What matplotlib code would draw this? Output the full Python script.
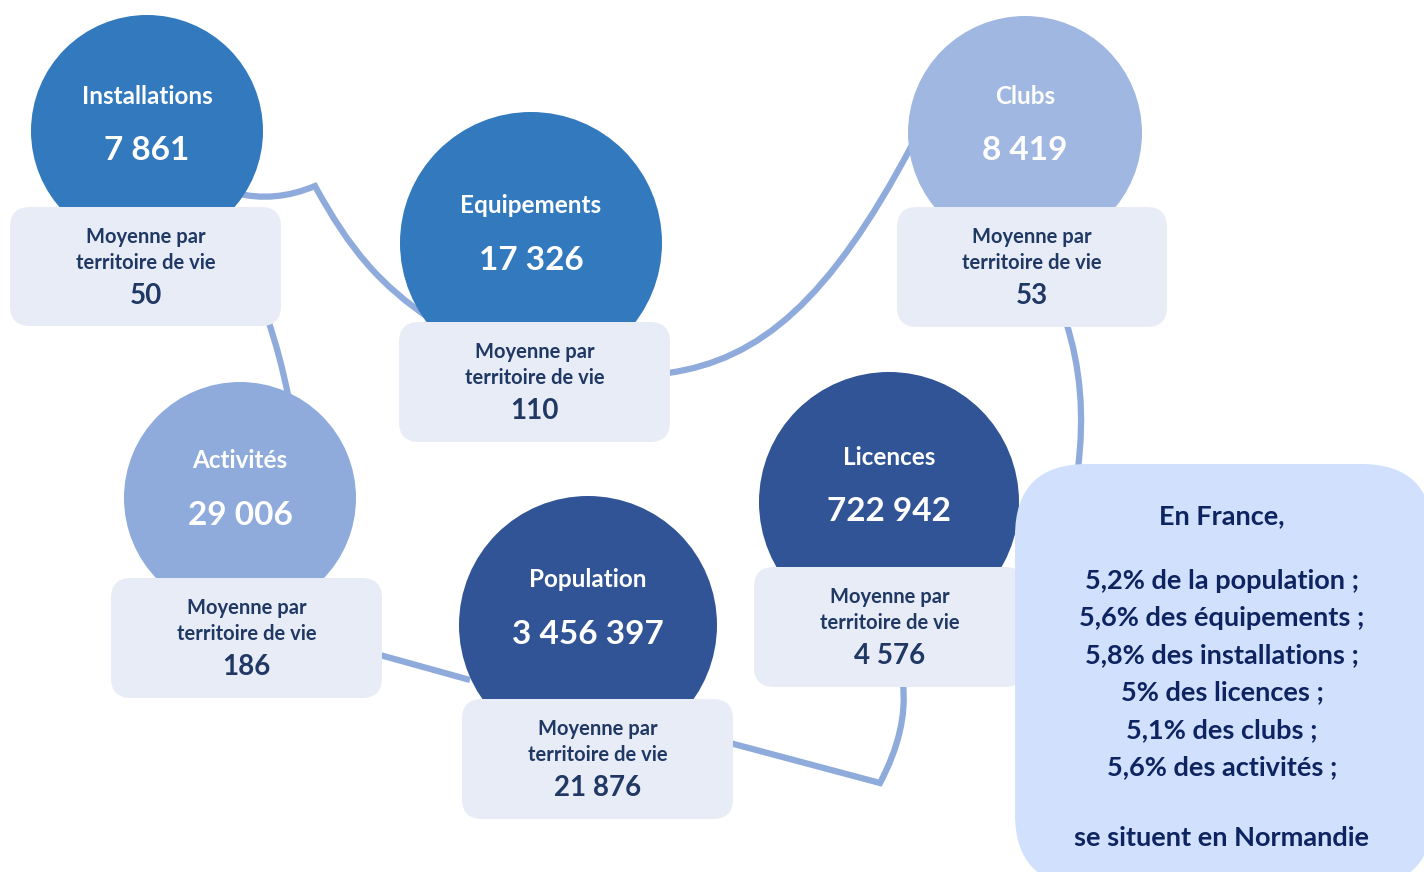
import matplotlib.pyplot as plt
from matplotlib.patches import Circle, FancyBboxPatch, PathPatch
from matplotlib.path import Path

plt.rcParams['font.family'] = ['Lato', 'DejaVu Sans']

# data
names = ['Installations', 'Equipements', 'Clubs', 'Activités', 'Population', 'Licences']
totals = ['7 861', '17 326', '8 419', '29 006', '3 456 397', '722 942']
averages = ['50', '110', '53', '186', '21 876', '4 576']
avg_lines = ['Moyenne par', 'territoire de vie']
france_intro = 'En France,'
france_shares = ['5,2% de la population ;', '5,6% des équipements ;',
                 '5,8% des installations ;', '5% des licences ;',
                 '5,1% des clubs ;', '5,6% des activités ;']
france_outro = 'se situent en Normandie'

# layout (pixels, y down)
circles = [(147, 131, 116), (531, 243, 131), (1025, 133, 117),
           (240, 498, 116), (588, 625, 129), (889, 502, 130)]
text_y = [(96, 151), (205, 260), (96, 151), (460, 515), (579, 634), (457, 511)]
boxes = [(10, 207, 271, 119), (399, 322, 271, 120), (897, 207, 270, 120),
         (111, 578, 271, 120), (462, 699, 271, 120), (754, 567, 271, 120)]
colors = ['#3279be', '#3279be', '#a0b7e1', '#8eabdc', '#305495', '#305495']

BOX_C = '#e8ecf7'
LINE_C = '#8eabdc'
NAVY = '#1f3864'

fig = plt.figure(figsize=(14.24, 8.72), dpi=100)
ax = fig.add_axes([0, 0, 1, 1])
ax.set_xlim(0, 1424)
ax.set_ylim(872, 0)
ax.axis('off')

def curve(pts, codes):
    ax.add_patch(PathPatch(Path(pts, codes), fill=False, ec=LINE_C, lw=4.5,
                           capstyle='butt', joinstyle='miter', zorder=1))

M, L, C3, C4 = Path.MOVETO, Path.LINETO, Path.CURVE3, Path.CURVE4
curve([(235, 193), (275, 203), (315, 186), (350, 250), (380, 285), (432, 320)],
      [M, C3, C3, C4, C4, C4])
curve([(268, 320), (280, 355), (288, 395)], [M, C3, C3])
curve([(668, 373), (760, 360), (830, 300), (912, 145)], [M, C4, C4, C4])
curve([(1066, 322), (1088, 390), (1078, 468)], [M, C3, C3])
curve([(380, 655), (470, 680)], [M, L])
curve([(730, 743), (880, 783), (908, 730), (903, 684)], [M, L, C3, C3])

for (cx, cy, r), col in zip(circles, colors):
    ax.add_patch(Circle((cx, cy), r, fc=col, ec='none', zorder=2))

for (x, y, w, h) in boxes:
    ax.add_patch(FancyBboxPatch((x, y), w, h, boxstyle='round,pad=0,rounding_size=20',
                                fc=BOX_C, ec='none', zorder=3))

for name, tot, avg, (cx, cy, r), (ly, vy), (x, y, w, h) in zip(
        names, totals, averages, circles, text_y, boxes):
    ax.text(cx, ly, name, color='white', fontsize=17.5, fontweight='bold',
            ha='center', va='center', zorder=4)
    ax.text(cx, vy, tot, color='white', fontsize=24, fontweight='bold',
            ha='center', va='center', zorder=4)
    bx = x + w / 2
    ax.text(bx, y + 30, avg_lines[0], color=NAVY, fontsize=14.5, fontweight='bold',
            ha='center', va='center', zorder=4)
    ax.text(bx, y + 56, avg_lines[1], color=NAVY, fontsize=14.5, fontweight='bold',
            ha='center', va='center', zorder=4)
    ax.text(bx, y + 89, avg, color=NAVY, fontsize=20, fontweight='bold',
            ha='center', va='center', zorder=4)

# France box
ax.add_patch(FancyBboxPatch((1015, 464), 418, 422, boxstyle='round,pad=0,rounding_size=72',
                            fc='#d1e0fc', ec='none', zorder=3))
fx = 1222
ax.text(fx, 516, france_intro, color='#0d2461', fontsize=19.5, fontweight='bold',
        ha='center', va='center', zorder=4)
for i, s in enumerate(france_shares):
    ax.text(fx, 581 + i * 37.2, s, color='#0d2461', fontsize=19.5, fontweight='bold',
            ha='center', va='center', zorder=4)
ax.text(fx, 838, france_outro, color='#0d2461', fontsize=19.5, fontweight='bold',
        ha='center', va='center', zorder=4)

fig.savefig('out.png', dpi=100)
